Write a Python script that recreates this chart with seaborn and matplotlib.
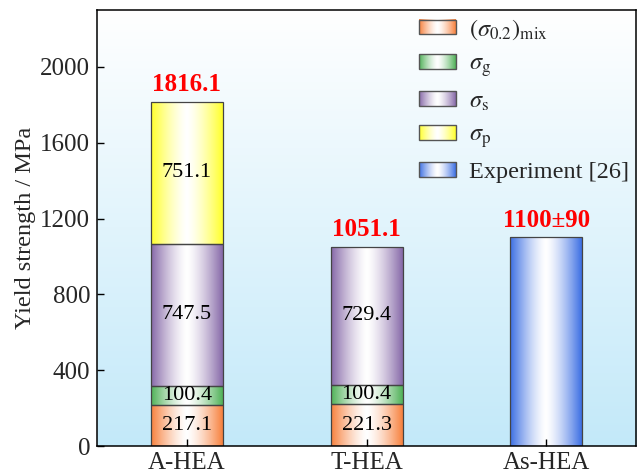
import numpy as np
import pandas as pd
import matplotlib
matplotlib.use("Agg")
import matplotlib.pyplot as plt
import seaborn as sns
from matplotlib.colors import to_rgb
from matplotlib.patches import Rectangle
from matplotlib.image import BboxImage
from matplotlib.transforms import Bbox, TransformedBbox
from matplotlib.legend_handler import HandlerBase

# ---- data ----
samples = ["A-HEA", "T-HEA", "As-HEA"]
components = ["mix", "g", "s", "p", "exp"]
comp_labels = [r"$(\sigma_{0.2})_{\rm mix}$", r"$\sigma_{\rm g}$", r"$\sigma_{\rm s}$",
               r"$\sigma_{\rm p}$", "Experiment [26]"]
comp_colors = ["#f7803c", "#4fb157", "#8668a8", "#ffff2a", "#3b6ee3"]

a_hea = [217.1, 100.4, 747.5, 751.1, 0.0]
t_hea = [221.3, 100.4, 729.4, 0.0, 0.0]
as_hea = [0.0, 0.0, 0.0, 0.0, 1100.0]
totals = ["1816.1", "1051.1", "1100\u00b190"]
total_values = [1816.1, 1051.1, 1100.0]
yticks = [0, 400, 800, 1200, 1600, 2000]

rows = []
for s, vals in zip(samples, [a_hea, t_hea, as_hea]):
    bottom = 0.0
    for c, v in zip(components, vals):
        if v > 0:
            rows.append({"sample": s, "component": c, "value": v, "bottom": bottom})
            bottom += v
df = pd.DataFrame(rows)

# ---- style ----
sns.set_theme(style="ticks")
plt.rcParams["font.family"] = ["Liberation Serif", "DejaVu Serif"]
plt.rcParams["mathtext.fontset"] = "stix"
plt.rcParams["xtick.direction"] = "in"
plt.rcParams["ytick.direction"] = "in"

fig = plt.figure(figsize=(6.4, 4.76), dpi=100)
ax = fig.add_axes([0.1516, 0.063, 0.8424, 0.916])


def gradient_row(color, n=256):
    """Horizontal gradient: colour at both edges, white in the middle."""
    t = np.abs(np.linspace(-1, 1, n))
    w = t ** 1.4
    rgb = np.array(to_rgb(color))
    img = (1 - w)[:, None] * np.ones(3) + w[:, None] * rgb
    return img[None, :, :]


# background: light blue at the bottom fading to white at the top
bg_top = np.array([1.0, 1.0, 1.0])
bg_bot = np.array(to_rgb("#c3e9f9"))
v = np.linspace(0, 1, 256)[:, None]
bg = (v * bg_top + (1 - v) * bg_bot)[::-1][:, None, :]
ax.imshow(bg, extent=[0, 1, 0, 1], transform=ax.transAxes, aspect="auto",
          zorder=0, interpolation="bilinear")

edge = "#444444"
for comp, color in zip(components, comp_colors):
    sub = df[df["component"] == comp]
    if sub.empty:
        continue
    n_before = len(ax.patches)
    sns.barplot(data=sub, x="sample", y="value", order=samples,
                bottom=sub["bottom"].values, width=0.4, errorbar=None,
                color=color, edgecolor=edge, linewidth=0.9, ax=ax, zorder=3)
    for p in ax.patches[n_before:]:
        p.set_facecolor("none")
        x0, y0 = p.get_x(), p.get_y()
        w, h = p.get_width(), p.get_height()
        im = ax.imshow(gradient_row(color), extent=[x0, x0 + w, y0, y0 + h],
                       aspect="auto", zorder=2, interpolation="bilinear")
        im.set_clip_path(p)

# segment value labels
for _, r in df.iterrows():
    if r["component"] == "exp":
        continue
    xi = samples.index(r["sample"])
    ax.text(xi, r["bottom"] + r["value"] / 2, f"{r['value']:.1f}",
            ha="center", va="center", fontsize=16, color="black", zorder=5)

# totals in red above bars
for xi, (lab, tv) in enumerate(zip(totals, total_values)):
    ax.annotate(lab, (xi, tv), xytext=(0, 4), textcoords="offset points",
                ha="center", va="bottom", fontsize=18, fontweight="bold",
                color="#ff0000", zorder=5)

ax.set_xlim(-0.5, 2.5)
ax.set_ylim(0, 2300)
ax.set_yticks(yticks)
ax.set_yticklabels([str(t) for t in yticks])
ax.set_xlabel("")
ax.set_ylabel("Yield strength / MPa", fontsize=17.5, labelpad=3)
ax.tick_params(axis="both", labelsize=18, length=5, width=1, color="black",
               direction="in")
ax.tick_params(axis="y", pad=5)
ax.tick_params(axis="x", pad=4)
ax.xaxis.set_zorder(6)
ax.yaxis.set_zorder(6)
for s in ax.spines.values():
    s.set_color("black")
    s.set_linewidth(1.1)
    s.set_zorder(6)


class GradientHandler(HandlerBase):
    def __init__(self, color):
        super().__init__()
        self.color = color

    def create_artists(self, legend, orig_handle, xdescent, ydescent,
                       width, height, fontsize, trans):
        bb = TransformedBbox(Bbox.from_bounds(-xdescent, -ydescent, width, height), trans)
        img = BboxImage(bb, interpolation="bilinear")
        img.set_data(gradient_row(self.color))
        rect = Rectangle((-xdescent, -ydescent), width, height, facecolor="none",
                         edgecolor="#555555", linewidth=1.0, transform=trans)
        return [img, rect]


handles = [Rectangle((0, 0), 1, 1) for _ in components]
hmap = {h: GradientHandler(c) for h, c in zip(handles, comp_colors)}
ax.legend(handles, comp_labels, handler_map=hmap, loc="upper right",
          frameon=False, fontsize=17.5, handlelength=1.5, handleheight=0.55,
          labelspacing=0.5, handletextpad=0.55, borderpad=0.2,
          borderaxespad=0.1, bbox_to_anchor=(1.0, 1.0))

fig.savefig("out.png", dpi=100)
